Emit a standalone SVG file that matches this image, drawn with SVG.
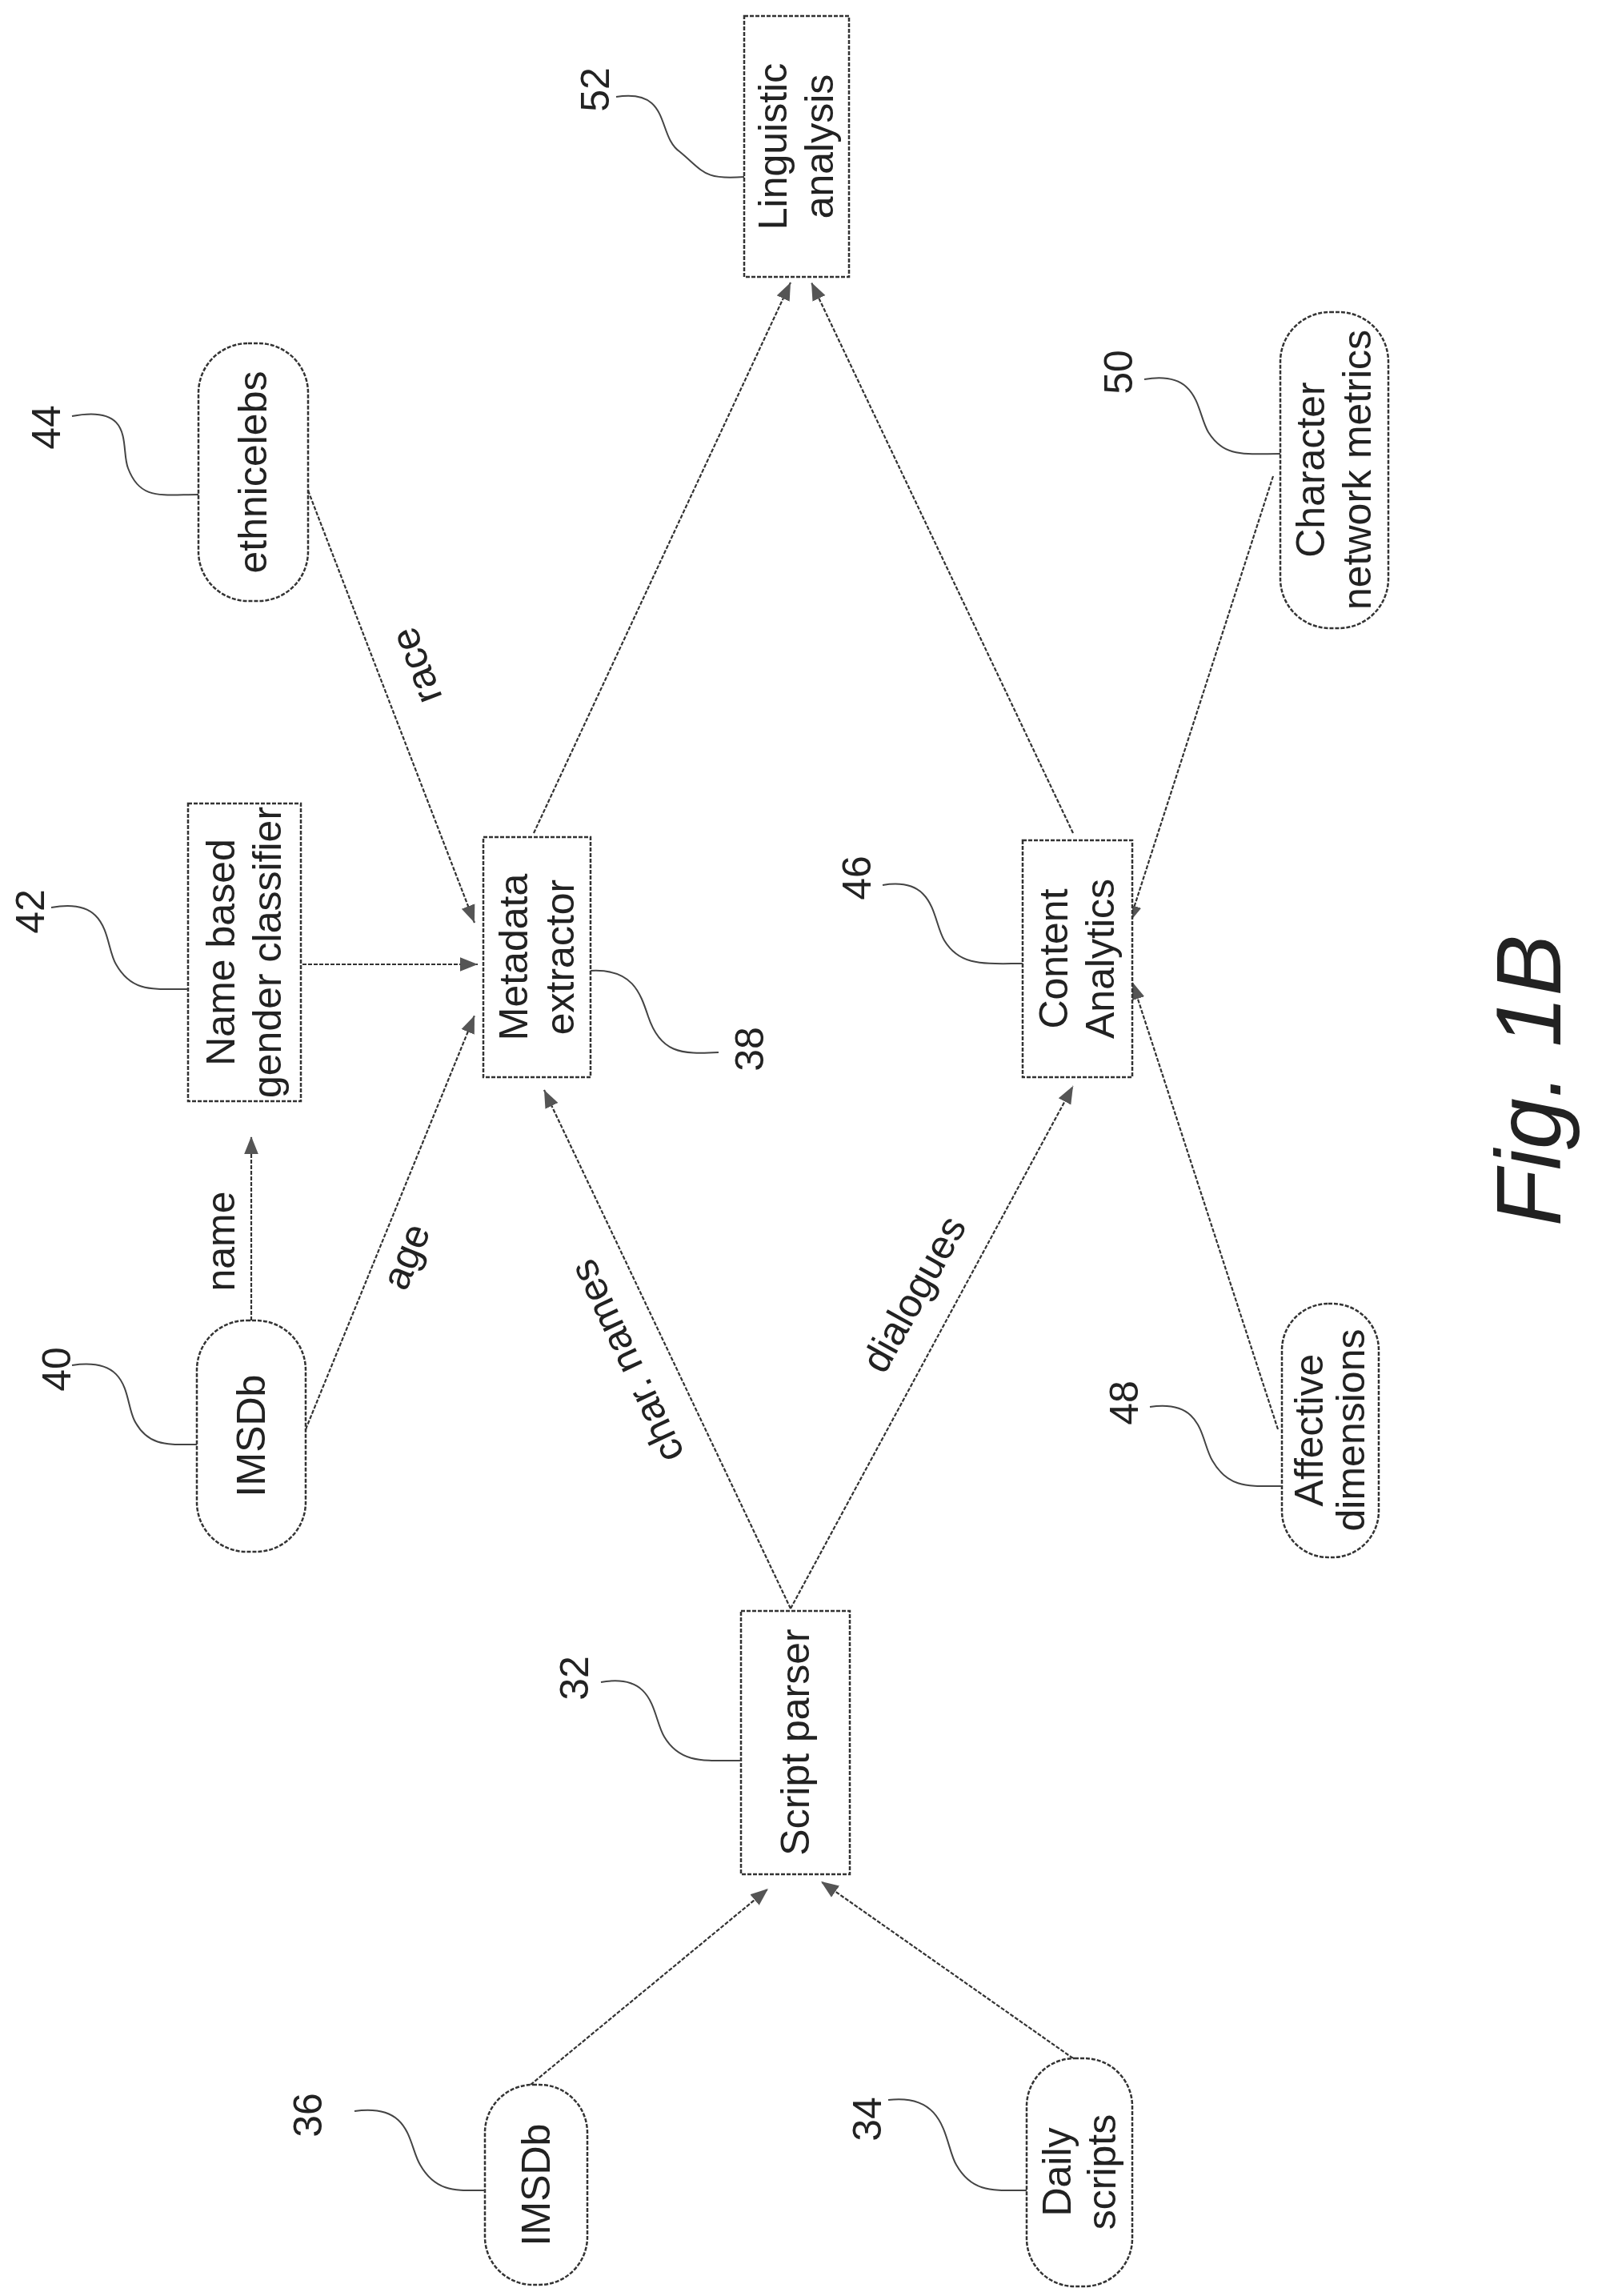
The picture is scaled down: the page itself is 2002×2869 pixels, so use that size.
<svg xmlns="http://www.w3.org/2000/svg" width="2002" height="2869" viewBox="0 0 2002 2869">
<style>
.b{fill:#fff;stroke:#333;stroke-width:2.5;stroke-dasharray:5 2}
.t{font-family:"Liberation Sans",Arial,sans-serif;font-size:50px;fill:#222;text-anchor:middle;dominant-baseline:central}
.c{fill:none;stroke:#333;stroke-width:2.2;stroke-dasharray:5 2}
.l{fill:none;stroke:#444;stroke-width:2}
</style>
<defs>
<marker id="a" viewBox="0 0 10 10" refX="10" refY="5" markerWidth="22" markerHeight="22" markerUnits="userSpaceOnUse" orient="auto">
<path d="M0,1 L10,5 L0,9 z" fill="#555"/>
</marker>
</defs>
<rect width="2002" height="2869" fill="#fff"/>
<g id="connectors">
<line class="c" x1="663" y1="2605" x2="960" y2="2360" marker-end="url(#a)"/>
<line class="c" x1="1341" y1="2572" x2="1026" y2="2351" marker-end="url(#a)"/>
<line class="c" x1="988" y1="2010" x2="680" y2="1362" marker-end="url(#a)"/>
<line class="c" x1="988" y1="2010" x2="1341" y2="1357" marker-end="url(#a)"/>
<line class="c" x1="382" y1="1786" x2="593" y2="1269" marker-end="url(#a)"/>
<line class="c" x1="314" y1="1650" x2="314" y2="1420" marker-end="url(#a)"/>
<line class="c" x1="378" y1="1205" x2="597" y2="1205" marker-end="url(#a)"/>
<line class="c" x1="385" y1="613" x2="593" y2="1153" marker-end="url(#a)"/>
<line class="c" x1="667" y1="1041" x2="988" y2="353" marker-end="url(#a)"/>
<line class="c" x1="1341" y1="1041" x2="1014" y2="353" marker-end="url(#a)"/>
<line class="c" x1="1591" y1="595" x2="1411" y2="1153" marker-end="url(#a)"/>
<line class="c" x1="1597" y1="1786" x2="1415" y2="1227" marker-end="url(#a)"/>
<text class="t" transform="translate(520,832) rotate(-111)">race</text>
<text class="t" transform="translate(276,1551) rotate(-90)">name</text>
<text class="t" transform="translate(507,1570) rotate(-68)">age</text>
<text class="t" transform="translate(783,1701) rotate(-115)">char. names</text>
<text class="t" transform="translate(1142,1617) rotate(-61)">dialogues</text>
</g>
<g id="n52"><rect class="b" x="930" y="20" width="131" height="326"/>
<text class="t" transform="translate(995,183) rotate(-90)"><tspan x="0" y="-29">Linguistic</tspan><tspan x="0" y="29">analysis</tspan></text>
<text class="t" transform="translate(744,112) rotate(-90)">52</text>
<path class="l" d="M770,121 C840,110 820,170 850,190 C880,215 880,225 930,221"/></g>
<g id="n44"><rect class="b" x="248" y="429" width="137" height="322" rx="62"/>
<text class="t" transform="translate(316,590) rotate(-90)">ethnicelebs</text>
<text class="t" transform="translate(58,534) rotate(-90)">44</text>
<path class="l" d="M90,520 C170,505 150,560 160,585 C175,625 200,618 248,618"/></g>
<g id="n42"><rect class="b" x="235" y="1004" width="141" height="372"/>
<text class="t" transform="translate(305,1190) rotate(-90)"><tspan x="0" y="-29">Name based</tspan><tspan x="0" y="29">gender classifier</tspan></text>
<text class="t" transform="translate(38,1139) rotate(-90)">42</text>
<path class="l" d="M64,1134 C140,1120 130,1180 145,1205 C165,1240 190,1236 235,1236"/></g>
<g id="n38"><rect class="b" x="604" y="1046" width="134" height="300"/>
<text class="t" transform="translate(671,1196) rotate(-90)"><tspan x="0" y="-29">Metadata</tspan><tspan x="0" y="29">extractor</tspan></text>
<text class="t" transform="translate(937,1311) rotate(-90)">38</text>
<path class="l" d="M738,1213 C790,1210 800,1240 810,1270 C825,1315 850,1318 898,1315"/></g>
<g id="n46"><rect class="b" x="1278" y="1050" width="137" height="296"/>
<text class="t" transform="translate(1346,1198) rotate(-90)"><tspan x="0" y="-29">Content</tspan><tspan x="0" y="29">Analytics</tspan></text>
<text class="t" transform="translate(1071,1097) rotate(-90)">46</text>
<path class="l" d="M1103,1106 C1170,1095 1165,1150 1180,1175 C1200,1208 1230,1204 1278,1204"/></g>
<g id="n50"><rect class="b" x="1600" y="390" width="135" height="395" rx="62"/>
<text class="t" transform="translate(1667,587) rotate(-90)"><tspan x="0" y="-29">Character</tspan><tspan x="0" y="29">network metrics</tspan></text>
<text class="t" transform="translate(1398,465) rotate(-90)">50</text>
<path class="l" d="M1430,474 C1500,462 1495,515 1510,540 C1530,572 1555,567 1600,567"/></g>
<g id="n40"><rect class="b" x="246" y="1650" width="136" height="289" rx="62"/>
<text class="t" transform="translate(314,1794) rotate(-90)">IMSDb</text>
<text class="t" transform="translate(71,1711) rotate(-90)">40</text>
<path class="l" d="M90,1706 C165,1695 155,1750 168,1775 C185,1808 210,1805 246,1805"/></g>
<g id="n48"><rect class="b" x="1602" y="1629" width="121" height="317" rx="58"/>
<text class="t" transform="translate(1662,1787) rotate(-90)"><tspan x="0" y="-26">Affective</tspan><tspan x="0" y="26">dimensions</tspan></text>
<text class="t" transform="translate(1405,1753) rotate(-90)">48</text>
<path class="l" d="M1437,1758 C1505,1748 1500,1800 1515,1825 C1535,1860 1560,1857 1602,1857"/></g>
<g id="n32"><rect class="b" x="926" y="2013" width="136" height="329"/>
<text class="t" transform="translate(994,2177) rotate(-90)">Script parser</text>
<text class="t" transform="translate(718,2097) rotate(-90)">32</text>
<path class="l" d="M751,2102 C820,2090 815,2145 830,2170 C850,2204 880,2200 926,2200"/></g>
<g id="n36"><rect class="b" x="606" y="2605" width="128" height="250" rx="60"/>
<text class="t" transform="translate(670,2730) rotate(-90)">IMSDb</text>
<text class="t" transform="translate(385,2643) rotate(-90)">36</text>
<path class="l" d="M443,2638 C515,2628 510,2680 525,2705 C545,2740 570,2737 606,2737"/></g>
<g id="n34"><rect class="b" x="1283" y="2572" width="132" height="285" rx="60"/>
<text class="t" transform="translate(1349,2714) rotate(-90)"><tspan x="0" y="-28">Daily</tspan><tspan x="0" y="28">scripts</tspan></text>
<text class="t" transform="translate(1084,2648) rotate(-90)">34</text>
<path class="l" d="M1110,2624 C1185,2615 1180,2680 1195,2705 C1215,2740 1240,2737 1283,2737"/></g>
<text class="t" style="font-size:115px;font-style:italic" transform="translate(1910,1350) rotate(-90)">Fig. 1B</text>
</svg>
